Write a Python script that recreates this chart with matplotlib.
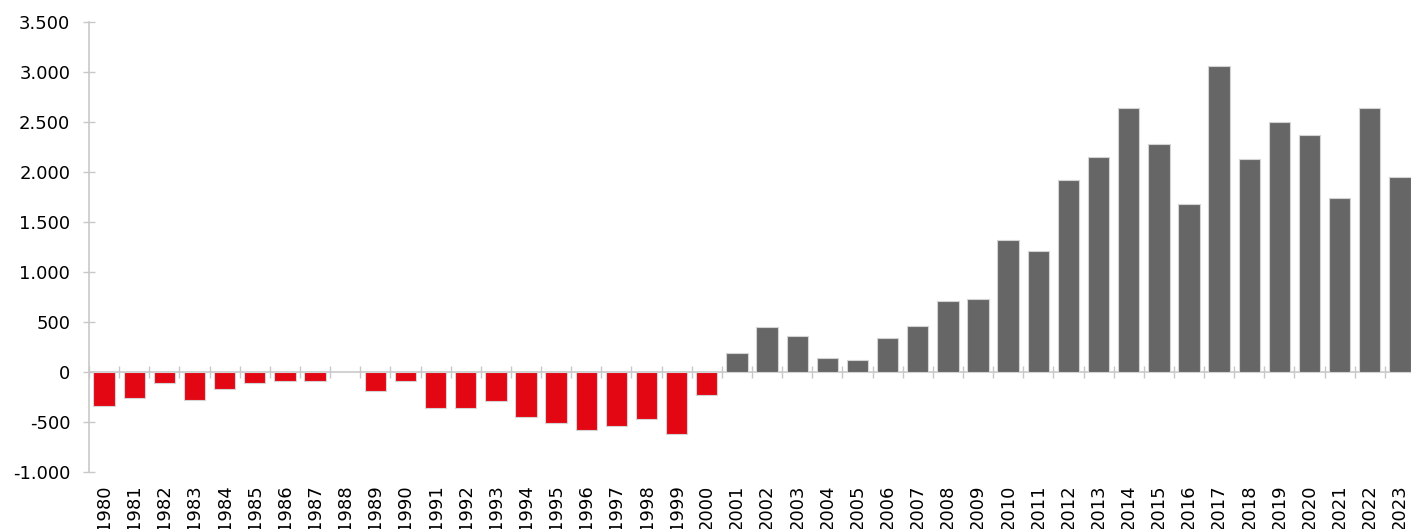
import numpy as np
import matplotlib.pyplot as plt
from matplotlib.ticker import FuncFormatter

years = list(range(1980, 2024))
values = [-335, -255, -113, -283, -173, -113, -93, -93, 0, -193,
          -93, -363, -363, -293, -453, -513, -583, -543, -473, -623,
          -233, 187, 447, 363, 143, 120, 343, 460, 710, 733,
          1320, 1213, 1917, 2153, 2640, 2283, 1677, 3063, 2130, 2500,
          2367, 1737, 2640, 1950]

red = '#e30613'
grey = '#666666'
axis_grey = '#c8c8c8'

plt.rcParams['font.family'] = ['DejaVu Sans']

fig = plt.figure(figsize=(14.11, 5.29), dpi=100)
ax = fig.add_axes([89 / 1411, 1 - 472 / 529, 1326 / 1411, 450 / 529])

x = np.arange(len(years))
colors = [red if v < 0 else grey for v in values]
ax.bar(x, values, width=0.71, color=colors, edgecolor='#d4d4d4', linewidth=0.8, zorder=2)

ax.set_xlim(-0.5, len(years) - 0.5)
ax.set_ylim(-1000, 3500)
ax.set_yticks(np.arange(-1000, 3501, 500))
ax.yaxis.set_major_formatter(FuncFormatter(lambda v, p: f'{int(v):,}'.replace(',', '.')))

for s in ['top', 'right', 'bottom']:
    ax.spines[s].set_visible(False)
ax.spines['left'].set_color(axis_grey)
ax.spines['left'].set_linewidth(1.2)

ax.tick_params(axis='y', direction='inout', length=9, width=1, color=axis_grey,
               labelsize=13, pad=9)
ax.set_xticks(x)
ax.set_xticklabels([str(y) for y in years], rotation=90, va='top')
ax.tick_params(axis='x', length=0, labelsize=13, pad=9)

# zero line with category boundary ticks
sec = ax.secondary_xaxis(0, transform=ax.transData)
sec.spines['bottom'].set_color(axis_grey)
sec.spines['bottom'].set_linewidth(1.2)
sec.set_xticks(np.arange(-0.5, len(years), 1.0))
sec.tick_params(axis='x', direction='inout', length=9, width=1, color=axis_grey,
                labelbottom=False)

fig.savefig('out.png', dpi=100, facecolor='white')
